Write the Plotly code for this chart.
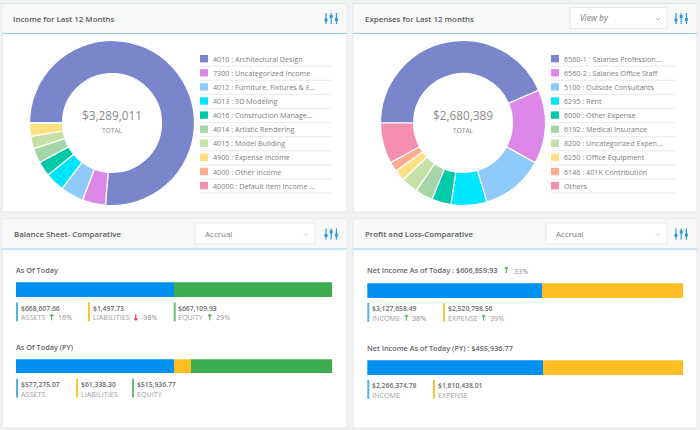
import plotly.graph_objects as go

W, H = 700, 430
FONT = "Open Sans"

income_labels = ["4010 : Architectural Design", "7300 : Uncategorized Income", "4012 : Furniture, Fixtures & E...",
                 "4013 : 3D Modeling", "4016 : Construction Manage...", "4014 : Artistic Rendering",
                 "4015 : Model Building", "4900 : Expense Income", "4000 : Other Income", "40000 : Default Item Income ..."]
income_values = [2508000, 150000, 150000, 124000, 95000, 97000, 80000, 84000, 800, 211]

expense_labels = ["6560-1 : Salaries Profession...", "6560-2 : Salaries Office Staff", "5100 : Outside Consultants",
                  "6295 : Rent", "6000 : Other Expense", "6192 : Medical Insurance",
                  "8200 : Uncategorized Expen...", "6250 : Office Equipment", "6146 : 401K Contribution", "Others"]
expense_values = [1166000, 389000, 330000, 188000, 102000, 94000, 88000, 59000, 51000, 213389]

pie_colors = ["#7986cb", "#dd88e8", "#90caf9", "#00e5ff", "#00c9a7", "#a5d6a7", "#c5e1a5", "#ffe082", "#ffab91", "#f48fb1"]

bs_names = ["ASSETS", "LIABILITIES", "EQUITY"]
bs_today = [668607.66, 1497.73, 667109.93]
bs_py = [577275.07, 61338.30, 515936.77]
bs_changes = [(1, "16%"), (-1, "-98%"), (1, "29%")]

pl_names = ["INCOME", "EXPENSE"]
pl_today = [3127658.49, 2520798.56]
pl_py = [2266374.78, 1810438.01]
pl_changes = [(1, "38%"), (1, "39%")]
pl_net_today = 606859.93
pl_net_py = 455936.77

BLUE, YEL, GRN = "#0091f0", "#ffbd24", "#3dab50"
MBLUE, MYEL, MGRN = "#4fb3ea", "#ffc333", "#6dbb78"
UP, DOWN = "#4caf50", "#e91e63"


def px(x):
    return x / W


def py(y):
    return 1 - y / H


shapes, ann = [], []


def rect(x0, y0, x1, y1, fill, line=None, lw=1):
    shapes.append(dict(type="rect", xref="paper", yref="paper", x0=px(x0), x1=px(x1), y0=py(y0), y1=py(y1),
                       fillcolor=fill, line=dict(color=line or fill, width=lw if line else 0), layer="below"))


def seg(x0, y0, x1, y1, color, lw=1):
    shapes.append(dict(type="line", xref="paper", yref="paper", x0=px(x0), x1=px(x1), y0=py(y0), y1=py(y1),
                       line=dict(color=color, width=lw), layer="below"))


def arrow(x, y, direction):
    color = UP if direction > 0 else DOWN
    tip = y - 2.9 * direction
    seg(x, y + 2.9 * direction, x, tip, color, 1.1)
    seg(x - 1.6, tip + 1.8 * direction, x, tip, color, 1.1)
    seg(x + 1.6, tip + 1.8 * direction, x, tip, color, 1.1)


def text(x, y, s, size=7.5, color="#8c8c8c", anchor="left", weight=None, style=None):
    f = dict(family=FONT, size=size, color=color)
    if weight:
        f["weight"] = weight
    if style:
        f["style"] = style
    ann.append(dict(xref="paper", yref="paper", x=px(x), y=py(y), text=s, showarrow=False, xanchor=anchor,
                    yanchor="middle", font=f, borderpad=0, borderwidth=0))


def panel(x0, y0, x1, y1, head, title, tx, drop=None, drop_text=None, italic=False):
    rect(x0, y0, x1, y1, "#ffffff", "#e3e6ea", 1)
    rect(x0 + .5, y0 + .5, x1 - .5, head, "#f7f8f8")
    seg(x0, head, x1, head, "#93d0f2", 1.2)
    text(tx, (y0 + head) / 2 + .3, title, 7.9, "#5c5c5c", weight=600)
    # slider icon
    ix, iy = x1 - 21, (y0 + head) / 2
    for dx, k in ((0, 1.5), (5.2, -2), (10.4, 1)):
        seg(ix + dx, iy - 5.5, ix + dx, iy + 5.5, "#2f98d8", 1.2)
        rect(ix + dx - 1.5, iy + k - 1.5, ix + dx + 1.5, iy + k + 1.5, "#2f98d8")
    if drop:
        dx0, dx1 = drop
        rect(dx0, y0 + 4, dx1, head - 5, "#ffffff", "#e6e8ea", 1)
        text(dx0 + 9.5, (y0 + head) / 2 - .5, drop_text, 8.4 if italic else 8, "#7d7d7d", style="italic" if italic else None)
        cx = dx1 - 9
        cy = (y0 + head) / 2 + .5
        seg(cx - 2, cy - 1, cx, cy + 1, "#aaaaaa", .8)
        seg(cx, cy + 1, cx + 2, cy - 1, "#aaaaaa", .8)


panel(2, 3.5, 347, 212, 33.5, "Income for Last 12 Months", 13)
panel(353, 3.5, 697, 212, 33.5, "Expenses for Last 12 months", 364.5, (570, 667), "View by", True)
panel(2, 219, 347, 428, 249, "Balance Sheet- Comparative", 13.5, (195, 315), "Accrual")
panel(353, 219, 697, 428, 249, "Profit and Loss-Comparative", 364.5, (546, 667), "Accrual")

fig = go.Figure()


def donut(labels, values, cx, cy, r, total, lx, sep_end):
    fig.add_trace(go.Pie(labels=labels, values=values, sort=False, direction="clockwise", rotation=270, hole=0.6,
                         textinfo="none", showlegend=False,
                         marker=dict(colors=pie_colors, line=dict(color="#ffffff", width=1.2)),
                         domain=dict(x=[px(cx - r), px(cx + r)], y=[py(cy + r), py(cy - r)])))
    text(cx, cy - 8, total, 11.8, "#8a8a8a", "center")
    text(cx, cy + 8, "TOTAL", 6.6, "#8c8c8c", "center")
    for i, lab in enumerate(labels):
        y = 58.7 + i * 14.1
        rect(lx, y - 3.7, lx + 8, y + 3.7, pie_colors[i])
        text(lx + 13, y, lab, 7.2, "#808080")
        seg(lx, y + 7.5, sep_end, y + 7.5, "#e2e4e6", .8)


donut(income_labels, income_values, 112, 123, 82.5, "$3,289,011", 200, 331)
donut(expense_labels, expense_values, 463, 123, 82.5, "$2,680,389", 551, 675)


def stacked(idx, values, colors, x0, x1, y0, y1):
    suffix = str(idx)
    for v, c in zip(values, colors):
        fig.add_trace(go.Bar(x=[v], y=[0], orientation="h", marker=dict(color=c, line=dict(width=0)), width=1,
                             showlegend=False, xaxis="x" + suffix, yaxis="y" + suffix))
    fig.layout["xaxis" + suffix] = dict(domain=[px(x0), px(x1)], range=[0, sum(values)], visible=False,
                                        fixedrange=True, anchor="y" + suffix)
    fig.layout["yaxis" + suffix] = dict(domain=[py(y1), py(y0)], range=[-.5, .5], visible=False,
                                        fixedrange=True, anchor="x" + suffix)


def items(names, values, changes, colors, marks, yv, yl, arrows=None):
    for i, (n, v, c, mx) in enumerate(zip(names, values, colors, marks)):
        rect(mx, yv - 5.5, mx + 2, yl + 4, c)
        text(mx + 4.7, yv, f"${v:,.2f}", 6.8, "#6b6b6b", weight=600)
        text(mx + 4.7, yl, n, 7.2, "#a0a0a0")
        if changes:
            direction, pct = changes[i]
            ax, pxx = arrows[i]
            arrow(ax, yl, direction)
            text(pxx, yl, pct, 7.2, "#8c8c8c")


bs_colors = [BLUE, YEL, GRN]
bs_marks = [MBLUE, MYEL, MGRN]
stacked(2, bs_today, bs_colors, 16, 332, 282.3, 297)
stacked(3, bs_py, bs_colors, 16, 332, 359.3, 373.5)
stacked(4, pl_today, [BLUE, YEL], 367.3, 683.5, 283.3, 298)
stacked(5, pl_py, [BLUE, YEL], 367.3, 683.5, 360.3, 375)

text(16, 270, "As Of Today", 7.3, "#666666", weight=600)
text(16, 346.5, "As Of Today (PY)", 7.3, "#666666", weight=600)
items(bs_names, bs_today, bs_changes, bs_marks, [16, 88, 173.7], 308, 317.3, [(51.7, 58), (135.8, 141), (209.8, 216)])
items(bs_names, bs_py, None, bs_marks, [16, 76, 132], 384.3, 393.5)

text(367.3, 270, f"Net Income As of Today : ${pl_net_today:,.2f}", 7.3, "#666666", weight=600)
arrow(506.3, 270, 1)
text(513.5, 270.5, "33%", 7.2, "#8c8c8c")
text(367.3, 347.5, f"Net Income As of Today (PY) : ${pl_net_py:,.2f}", 7.3, "#666666", weight=600)
items(pl_names, pl_today, pl_changes, [MBLUE, MYEL], [367.3, 443], 308.5, 317.8, [(406.3, 412.3), (483.7, 489.8)])
items(pl_names, pl_py, None, [MBLUE, MYEL], [367.3, 433], 385.3, 394.8)

fig.update_layout(width=W, height=H, autosize=False, margin=dict(l=0, r=0, t=0, b=0), paper_bgcolor="#f1f2f4",
                  plot_bgcolor="rgba(0,0,0,0)", barmode="stack", bargap=0, shapes=shapes, annotations=ann,
                  showlegend=False, font=dict(family=FONT))
fig.write_html("out.html", config=dict(displayModeBar=False), post_script="document.body.style.margin='0';")
